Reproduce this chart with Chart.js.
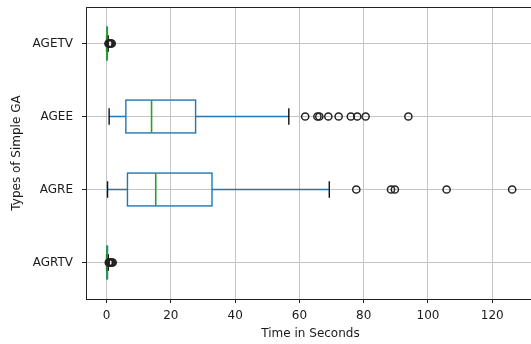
<!DOCTYPE html>
<html>
<head>
<meta charset="utf-8">
<script src="https://cdn.jsdelivr.net/npm/chart.js@4/dist/chart.umd.min.js"></script>
<style>
  html, body { margin: 0; padding: 0; background: #fff; overflow: hidden; }
  canvas { display: block; }
</style>
</head>
<body>
<canvas id="timeChart" width="545" height="344"></canvas>
<script>
// groups, bottom to top (positions 1..4)
var groups = ['AGRTV', 'AGRE', 'AGEE', 'AGETV'];
var positions = [1, 2, 3, 4];

// five-number summaries (seconds)
var whiskerLow  = [0.0, 0.3, 0.8, 0.0];
var q1          = [0.05, 6.5, 6.0, 0.05];
var medians     = [0.15, 15.3, 14.0, 0.1];
var q3          = [0.3, 32.8, 27.7, 0.25];
var whiskerHigh = [0.55, 69.3, 56.7, 0.5];

// fliers per group
var fliers = [
    [0.7, 0.9, 1.1, 1.3, 1.6, 1.9],
    [77.7, 88.5, 89.7, 105.8, 126.2],
    [61.8, 65.6, 66.2, 69.0, 72.2, 76.0, 78.0, 80.6, 93.9],
    [0.6, 0.8, 1.0, 1.3, 1.6]
];

var xTicks = [0, 20, 40, 60, 80, 100, 120];

var BOX_WIDTH = 0.45;   // in y units
var CAP_WIDTH = 0.225;

var flierPoints = [];
fliers.forEach(function (list, i) {
    list.forEach(function (v) { flierPoints.push({ x: v, y: positions[i] }); });
});

var font = { family: 'DejaVu Sans', size: 12 };

// boxes, whiskers, caps and medians drawn through the chart scales
var boxPlugin = {
    id: 'boxes',
    beforeDatasetsDraw: function (chart) {
        var ctx = chart.ctx, xs = chart.scales.x, ys = chart.scales.y;
        var area = chart.chartArea;
        ctx.save();
        ctx.beginPath();
        ctx.rect(area.left, area.top, area.right - area.left, area.bottom - area.top);
        ctx.clip();
        positions.forEach(function (p, i) {
            var yc = ys.getPixelForValue(p);
            var yTop = ys.getPixelForValue(p + BOX_WIDTH / 2);
            var yBot = ys.getPixelForValue(p - BOX_WIDTH / 2);
            var cTop = ys.getPixelForValue(p + CAP_WIDTH / 2);
            var cBot = ys.getPixelForValue(p - CAP_WIDTH / 2);
            var xLo = xs.getPixelForValue(whiskerLow[i]);
            var x1 = xs.getPixelForValue(q1[i]);
            var xm = xs.getPixelForValue(medians[i]);
            var x3 = xs.getPixelForValue(q3[i]);
            var xHi = xs.getPixelForValue(whiskerHigh[i]);

            ctx.lineWidth = 1.4;
            ctx.strokeStyle = '#1f77b4';
            ctx.beginPath();
            ctx.moveTo(xLo, yc); ctx.lineTo(x1, yc);
            ctx.moveTo(x3, yc); ctx.lineTo(xHi, yc);
            ctx.stroke();
            ctx.strokeRect(x1, yTop, x3 - x1, yBot - yTop);

            ctx.strokeStyle = '#111';
            ctx.beginPath();
            ctx.moveTo(xLo, cTop); ctx.lineTo(xLo, cBot);
            ctx.moveTo(xHi, cTop); ctx.lineTo(xHi, cBot);
            ctx.stroke();

            ctx.lineWidth = 1.6;
            ctx.strokeStyle = '#2ca02c';
            ctx.beginPath();
            ctx.moveTo(xm, yTop); ctx.lineTo(xm, yBot);
            ctx.stroke();
        });
        ctx.restore();
    },
    afterDraw: function (chart) {
        var ctx = chart.ctx, a = chart.chartArea;
        ctx.save();
        ctx.strokeStyle = '#222';
        ctx.lineWidth = 1;
        ctx.strokeRect(Math.round(a.left) + 0.5, Math.round(a.top) + 0.5,
            Math.round(a.right - a.left), Math.round(a.bottom - a.top));
        ctx.restore();
    }
};

var ctx = document.getElementById('timeChart').getContext('2d');
var chart = new Chart(ctx, {
    type: 'scatter',
    data: {
        datasets: [{
            label: 'fliers',
            data: flierPoints,
            pointStyle: 'circle',
            pointRadius: 3.6,
            pointBorderWidth: 1.5,
            borderColor: '#222',
            backgroundColor: 'rgba(0,0,0,0)'
        }]
    },
    options: {
        responsive: false,
        animation: false,
        devicePixelRatio: 1,
        layout: { padding: { left: 0, top: 0, right: 10, bottom: 0 } },
        plugins: {
            legend: { display: false },
            tooltip: { enabled: false }
        },
        scales: {
            x: {
                type: 'linear',
                min: -6.4,
                max: 133.3,
                afterBuildTicks: function (scale) {
                    scale.ticks = xTicks.map(function (v) { return { value: v }; });
                },
                afterFit: function (scale) { scale.height = 45; },
                grid: {
                    color: '#c4c4c4',
                    lineWidth: 1,
                    tickColor: '#222',
                    tickLength: 4
                },
                border: { display: false },
                ticks: { color: '#1a1a1a', font: font, padding: 6, maxRotation: 0 },
                title: {
                    display: true,
                    text: 'Time in Seconds',
                    color: '#1a1a1a',
                    font: font,
                    padding: { top: 0, bottom: 3 }
                }
            },
            y: {
                type: 'linear',
                min: 0.5,
                max: 4.5,
                afterBuildTicks: function (scale) {
                    scale.ticks = positions.map(function (v) { return { value: v }; });
                },
                afterFit: function (scale) {
                    scale.width = 86;
                    scale.paddingTop = 7;
                    scale.paddingBottom = 0;
                },
                grid: {
                    color: '#c4c4c4',
                    lineWidth: 1,
                    tickColor: '#222',
                    tickLength: 4
                },
                border: { display: false },
                ticks: {
                    color: '#1a1a1a',
                    font: font,
                    padding: 9,
                    callback: function (v) { return groups[positions.indexOf(v)]; }
                },
                title: {
                    display: true,
                    text: 'Types of Simple GA',
                    color: '#1a1a1a',
                    font: font,
                    padding: { top: 10, bottom: 0 }
                }
            }
        }
    },
    plugins: [boxPlugin]
});
</script>
</body>
</html>
